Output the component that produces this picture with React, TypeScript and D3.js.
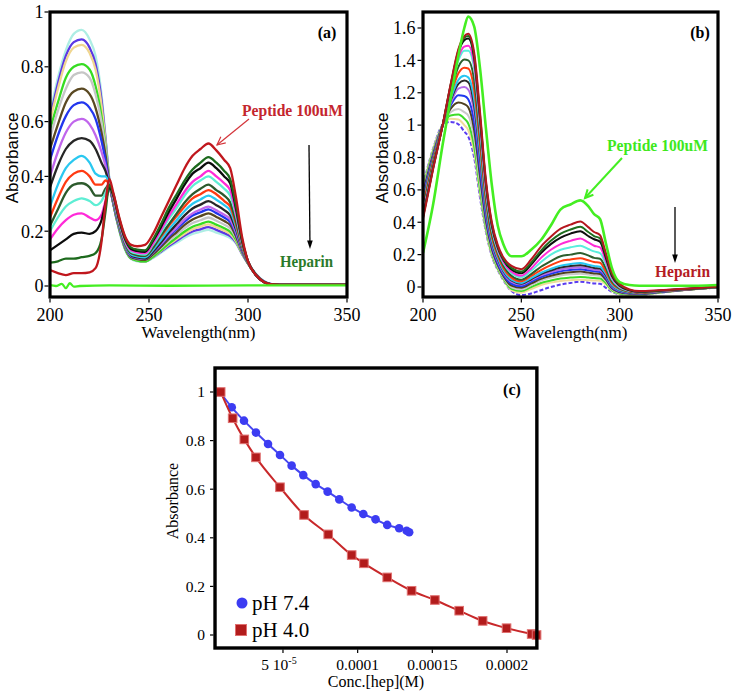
import React from 'react';
import * as d3 from 'd3';

// ---------- Panel (a) data ----------
const WL_A = [200, 204, 208, 212, 216, 220, 223, 226, 228, 230, 232, 235, 238, 241, 244, 248, 252, 256, 260, 264, 268, 272, 276, 280, 284, 288, 291, 294, 297, 300, 304, 308, 312, 320, 350];
const A_CYAN = [0.63, 0.76, 0.86, 0.92, 0.935, 0.90, 0.84, 0.70, 0.55, 0.39, 0.30, 0.20, 0.13, 0.098, 0.09, 0.088, 0.102, 0.121, 0.141, 0.158, 0.176, 0.19, 0.198, 0.205, 0.195, 0.185, 0.175, 0.155, 0.118, 0.085, 0.045, 0.018, 0.007, 0.004, 0.004];
const A_VIOLET = [0.61, 0.74, 0.84, 0.89, 0.90, 0.87, 0.81, 0.68, 0.54, 0.385, 0.30, 0.205, 0.135, 0.10, 0.093, 0.09, 0.105, 0.125, 0.146, 0.165, 0.184, 0.199, 0.207, 0.215, 0.205, 0.193, 0.182, 0.158, 0.116, 0.082, 0.043, 0.017, 0.007, 0.004, 0.004];
const A_YELLOW = [0.60, 0.72, 0.82, 0.87, 0.88, 0.85, 0.79, 0.66, 0.53, 0.38, 0.30, 0.205, 0.135, 0.10, 0.093, 0.09, 0.106, 0.128, 0.151, 0.171, 0.191, 0.207, 0.217, 0.225, 0.215, 0.202, 0.19, 0.162, 0.118, 0.082, 0.042, 0.016, 0.006, 0.004, 0.004];
const A_GREEN = [0.57, 0.67, 0.76, 0.80, 0.81, 0.79, 0.73, 0.62, 0.51, 0.38, 0.30, 0.205, 0.135, 0.10, 0.093, 0.09, 0.107, 0.13, 0.155, 0.177, 0.199, 0.216, 0.226, 0.235, 0.224, 0.211, 0.198, 0.168, 0.12, 0.082, 0.042, 0.016, 0.006, 0.004, 0.004];
const A_GRAY = [0.54, 0.64, 0.72, 0.77, 0.78, 0.76, 0.70, 0.60, 0.50, 0.375, 0.30, 0.21, 0.14, 0.104, 0.097, 0.095, 0.114, 0.138, 0.165, 0.188, 0.211, 0.23, 0.24, 0.25, 0.238, 0.224, 0.21, 0.175, 0.122, 0.083, 0.041, 0.016, 0.006, 0.004, 0.004];
const A_OLIVE = [0.50, 0.59, 0.67, 0.71, 0.72, 0.70, 0.65, 0.56, 0.48, 0.375, 0.30, 0.21, 0.14, 0.105, 0.098, 0.095, 0.115, 0.143, 0.172, 0.197, 0.223, 0.243, 0.255, 0.265, 0.252, 0.237, 0.222, 0.18, 0.125, 0.083, 0.041, 0.016, 0.006, 0.004, 0.004];
const A_BLUE = [0.46, 0.55, 0.62, 0.66, 0.67, 0.65, 0.61, 0.53, 0.46, 0.37, 0.305, 0.215, 0.145, 0.108, 0.102, 0.10, 0.122, 0.15, 0.181, 0.208, 0.235, 0.257, 0.269, 0.28, 0.266, 0.25, 0.233, 0.19, 0.128, 0.084, 0.041, 0.016, 0.006, 0.004, 0.004];
const A_ORCHID = [0.40, 0.49, 0.56, 0.60, 0.61, 0.59, 0.55, 0.49, 0.44, 0.37, 0.305, 0.215, 0.145, 0.11, 0.103, 0.10, 0.123, 0.153, 0.186, 0.214, 0.243, 0.265, 0.279, 0.29, 0.276, 0.26, 0.243, 0.195, 0.13, 0.084, 0.041, 0.016, 0.006, 0.004, 0.004];
const A_BLACK2 = [0.36, 0.44, 0.50, 0.53, 0.54, 0.53, 0.50, 0.45, 0.42, 0.37, 0.31, 0.22, 0.15, 0.112, 0.104, 0.10, 0.125, 0.159, 0.195, 0.226, 0.258, 0.283, 0.297, 0.31, 0.295, 0.277, 0.258, 0.205, 0.135, 0.085, 0.04, 0.015, 0.006, 0.004, 0.004];
const A_SKY = [0.29, 0.37, 0.43, 0.46, 0.475, 0.45, 0.41, 0.40, 0.40, 0.37, 0.31, 0.22, 0.15, 0.115, 0.108, 0.105, 0.132, 0.168, 0.206, 0.24, 0.274, 0.30, 0.316, 0.33, 0.315, 0.295, 0.275, 0.215, 0.14, 0.085, 0.04, 0.015, 0.006, 0.004, 0.004];
const A_ORANGE = [0.25, 0.32, 0.38, 0.41, 0.42, 0.40, 0.37, 0.37, 0.385, 0.37, 0.315, 0.225, 0.155, 0.12, 0.113, 0.11, 0.14, 0.18, 0.22, 0.255, 0.29, 0.32, 0.335, 0.35, 0.335, 0.31, 0.29, 0.225, 0.145, 0.086, 0.04, 0.015, 0.006, 0.004, 0.004];
const A_DKGREEN2 = [0.22, 0.28, 0.34, 0.37, 0.375, 0.36, 0.33, 0.33, 0.355, 0.37, 0.315, 0.225, 0.155, 0.12, 0.113, 0.11, 0.14, 0.185, 0.225, 0.265, 0.305, 0.335, 0.355, 0.37, 0.35, 0.33, 0.305, 0.235, 0.15, 0.087, 0.04, 0.015, 0.006, 0.004, 0.004];
const A_AQUA = [0.20, 0.25, 0.29, 0.31, 0.32, 0.31, 0.295, 0.31, 0.34, 0.37, 0.32, 0.23, 0.16, 0.125, 0.118, 0.115, 0.15, 0.195, 0.245, 0.285, 0.33, 0.365, 0.385, 0.40, 0.38, 0.355, 0.33, 0.255, 0.155, 0.088, 0.04, 0.015, 0.006, 0.004, 0.004];
const A_MAGENTA = [0.17, 0.21, 0.24, 0.26, 0.265, 0.25, 0.24, 0.26, 0.31, 0.37, 0.325, 0.235, 0.165, 0.13, 0.123, 0.12, 0.155, 0.205, 0.255, 0.30, 0.345, 0.38, 0.40, 0.42, 0.40, 0.375, 0.35, 0.265, 0.16, 0.09, 0.04, 0.015, 0.006, 0.004, 0.004];
const A_BLACK = [0.13, 0.15, 0.17, 0.19, 0.195, 0.19, 0.20, 0.24, 0.30, 0.36, 0.33, 0.24, 0.17, 0.135, 0.128, 0.125, 0.165, 0.215, 0.27, 0.32, 0.37, 0.41, 0.43, 0.45, 0.43, 0.40, 0.375, 0.28, 0.165, 0.09, 0.04, 0.015, 0.006, 0.004, 0.004];
const A_DKGREEN = [0.085, 0.09, 0.10, 0.10, 0.105, 0.11, 0.12, 0.17, 0.27, 0.37, 0.335, 0.245, 0.175, 0.14, 0.133, 0.13, 0.17, 0.225, 0.285, 0.335, 0.385, 0.425, 0.45, 0.47, 0.45, 0.42, 0.39, 0.29, 0.17, 0.09, 0.04, 0.015, 0.006, 0.004, 0.004];
const A_PEPTIDE = [0.058, 0.047, 0.04, 0.047, 0.047, 0.05, 0.065, 0.16, 0.30, 0.39, 0.34, 0.25, 0.18, 0.15, 0.145, 0.15, 0.19, 0.25, 0.31, 0.37, 0.43, 0.475, 0.50, 0.52, 0.495, 0.46, 0.43, 0.32, 0.18, 0.09, 0.04, 0.015, 0.006, 0.004, 0.004];
const WL_A_BASE = [200, 203, 206, 208, 210, 212, 215, 230, 260, 300, 350];
const A_BASELINE = [0.003, 0.0, 0.008, -0.008, 0.01, -0.002, 0.0, 0.002, 0.001, 0.002, 0.002];

// ---------- Panel (b) data ----------
const WL_B = [200, 205, 210, 214, 218, 221, 223, 226, 229, 232, 235, 238, 241, 245, 250, 255, 260, 265, 270, 275, 280, 284, 287, 290, 293, 296, 300, 305, 310, 320, 330, 340, 350];
const B_DKRED = [0.42, 0.72, 1.0, 1.25, 1.47, 1.55, 1.565, 1.45, 1.08, 0.66, 0.40, 0.26, 0.18, 0.13, 0.11, 0.17, 0.25, 0.31, 0.36, 0.385, 0.405, 0.37, 0.34, 0.32, 0.21, 0.09, 0.02, -0.015, -0.025, -0.02, -0.013, -0.006, 0.003];
const B_DKGREEN = [0.43, 0.725, 1.0, 1.245, 1.46, 1.54, 1.55, 1.43, 1.06, 0.645, 0.39, 0.25, 0.17, 0.118, 0.095, 0.15, 0.225, 0.285, 0.33, 0.355, 0.372, 0.34, 0.315, 0.30, 0.195, 0.08, 0.012, -0.018, -0.028, -0.022, -0.014, -0.007, 0.002];
const B_BLACK = [0.435, 0.73, 1.0, 1.24, 1.45, 1.525, 1.535, 1.415, 1.04, 0.635, 0.38, 0.245, 0.165, 0.108, 0.085, 0.138, 0.21, 0.265, 0.305, 0.33, 0.345, 0.315, 0.295, 0.28, 0.18, 0.07, 0.008, -0.02, -0.03, -0.023, -0.015, -0.007, 0.002];
const B_MAGENTA = [0.45, 0.735, 1.0, 1.23, 1.42, 1.485, 1.49, 1.38, 1.01, 0.61, 0.37, 0.235, 0.155, 0.095, 0.07, 0.115, 0.18, 0.23, 0.265, 0.285, 0.30, 0.275, 0.255, 0.245, 0.16, 0.06, 0.003, -0.022, -0.032, -0.024, -0.016, -0.008, 0.002];
const B_AQUA = [0.46, 0.74, 1.0, 1.22, 1.40, 1.46, 1.46, 1.35, 0.98, 0.59, 0.355, 0.225, 0.145, 0.085, 0.06, 0.10, 0.155, 0.20, 0.23, 0.245, 0.255, 0.235, 0.22, 0.21, 0.14, 0.05, -0.002, -0.024, -0.033, -0.025, -0.016, -0.008, 0.001];
const B_DKGREEN3 = [0.48, 0.755, 1.0, 1.2, 1.36, 1.405, 1.40, 1.28, 0.93, 0.56, 0.33, 0.21, 0.13, 0.07, 0.045, 0.08, 0.125, 0.16, 0.19, 0.20, 0.21, 0.195, 0.18, 0.175, 0.115, 0.035, -0.008, -0.027, -0.035, -0.026, -0.017, -0.009, 0.0];
const B_ORANGE = [0.50, 0.77, 1.0, 1.18, 1.32, 1.355, 1.35, 1.22, 0.88, 0.53, 0.31, 0.195, 0.115, 0.058, 0.035, 0.068, 0.105, 0.135, 0.16, 0.17, 0.178, 0.165, 0.155, 0.15, 0.095, 0.025, -0.012, -0.03, -0.037, -0.027, -0.018, -0.009, 0.0];
const B_SKY = [0.52, 0.78, 1.0, 1.16, 1.28, 1.305, 1.295, 1.16, 0.83, 0.50, 0.29, 0.18, 0.10, 0.045, 0.025, 0.055, 0.088, 0.112, 0.132, 0.142, 0.148, 0.138, 0.13, 0.125, 0.08, 0.015, -0.018, -0.033, -0.039, -0.028, -0.018, -0.009, 0.0];
const B_BLACK2 = [0.53, 0.79, 1.0, 1.15, 1.255, 1.275, 1.265, 1.12, 0.80, 0.48, 0.28, 0.17, 0.095, 0.04, 0.02, 0.048, 0.08, 0.102, 0.12, 0.13, 0.135, 0.126, 0.118, 0.114, 0.072, 0.01, -0.02, -0.035, -0.04, -0.029, -0.019, -0.01, -0.001];
const B_ORCHID = [0.545, 0.795, 1.0, 1.135, 1.225, 1.235, 1.22, 1.08, 0.77, 0.46, 0.265, 0.16, 0.085, 0.032, 0.015, 0.042, 0.072, 0.092, 0.108, 0.117, 0.122, 0.114, 0.107, 0.103, 0.065, 0.005, -0.024, -0.037, -0.041, -0.03, -0.019, -0.01, -0.001];
const B_BLUE = [0.56, 0.805, 1.0, 1.12, 1.185, 1.18, 1.16, 1.02, 0.72, 0.43, 0.25, 0.145, 0.075, 0.02, 0.005, 0.033, 0.062, 0.082, 0.097, 0.105, 0.11, 0.103, 0.097, 0.093, 0.055, -0.002, -0.028, -0.039, -0.042, -0.031, -0.02, -0.01, -0.001];
const B_OLIVE = [0.58, 0.815, 1.0, 1.10, 1.14, 1.13, 1.11, 0.97, 0.68, 0.405, 0.235, 0.135, 0.065, 0.008, -0.005, 0.022, 0.05, 0.069, 0.083, 0.091, 0.095, 0.089, 0.084, 0.08, 0.045, -0.008, -0.032, -0.041, -0.044, -0.032, -0.021, -0.011, -0.002];
const B_GRAY = [0.595, 0.825, 1.0, 1.08, 1.10, 1.08, 1.06, 0.92, 0.64, 0.385, 0.22, 0.125, 0.058, -0.002, -0.015, 0.012, 0.04, 0.058, 0.071, 0.078, 0.082, 0.077, 0.072, 0.069, 0.036, -0.014, -0.036, -0.044, -0.046, -0.033, -0.021, -0.011, -0.002];
const B_GREEN = [0.61, 0.835, 1.0, 1.06, 1.065, 1.04, 1.01, 0.87, 0.60, 0.365, 0.205, 0.115, 0.05, -0.012, -0.025, 0.0, 0.025, 0.04, 0.052, 0.058, 0.062, 0.058, 0.055, 0.053, 0.025, -0.02, -0.04, -0.047, -0.048, -0.034, -0.022, -0.011, -0.002];
const B_YELLOW = [0.62, 0.845, 1.0, 1.04, 1.035, 1.0, 0.97, 0.835, 0.575, 0.35, 0.195, 0.11, 0.045, -0.02, -0.035, -0.012, 0.012, 0.027, 0.037, 0.042, 0.045, 0.042, 0.04, 0.039, 0.015, -0.025, -0.043, -0.049, -0.05, -0.035, -0.022, -0.012, -0.003];
const B_VIOLET = [0.63, 0.85, 1.0, 1.02, 1.005, 0.96, 0.93, 0.80, 0.55, 0.34, 0.19, 0.105, 0.04, -0.025, -0.05, -0.04, -0.02, 0.0, 0.015, 0.025, 0.033, 0.027, 0.022, 0.02, -0.005, -0.03, -0.045, -0.05, -0.05, -0.036, -0.022, -0.012, -0.003];
const B_PEPTIDE = [0.21, 0.50, 0.88, 1.16, 1.43, 1.60, 1.67, 1.61, 1.35, 0.98, 0.63, 0.38, 0.26, 0.19, 0.19, 0.23, 0.29, 0.38, 0.48, 0.51, 0.535, 0.50, 0.45, 0.42, 0.27, 0.12, 0.03, 0.012, 0.008, 0.008, 0.008, 0.008, 0.012];

// ---------- Panel (c) data ----------
const PH74_X = [7.8e-6, 1.57e-5, 2.39e-5, 3.19e-5, 4.0e-5, 4.8e-5, 5.58e-5, 6.36e-5, 7.19e-5, 7.99e-5, 8.77e-5, 9.6e-5, 1.038e-4, 1.12e-4, 1.198e-4, 1.278e-4, 1.328e-4, 1.345e-4];
const PH74_Y = [1.0, 0.937, 0.882, 0.833, 0.786, 0.741, 0.697, 0.658, 0.621, 0.590, 0.558, 0.525, 0.498, 0.476, 0.453, 0.439, 0.429, 0.423];
const PH40_X = [8.3e-6, 1.63e-5, 2.41e-5, 3.19e-5, 4.8e-5, 6.41e-5, 8.03e-5, 9.6e-5, 1.042e-4, 1.198e-4, 1.361e-4, 1.517e-4, 1.68e-4, 1.837e-4, 1.997e-4, 2.165e-4, 2.198e-4];
const PH40_Y = [1.0, 0.892, 0.805, 0.731, 0.608, 0.494, 0.414, 0.329, 0.295, 0.237, 0.182, 0.144, 0.100, 0.058, 0.028, 0.004, 0.0];

// ---------- ticks ----------
const TICKS_WL = [200, 250, 300, 350];
const TICKS_A_Y = [0, 0.2, 0.4, 0.6, 0.8, 1];
const TICKS_B_Y = [0, 0.2, 0.4, 0.6, 0.8, 1, 1.2, 1.4, 1.6];
const TICKS_C_Y = [0, 0.2, 0.4, 0.6, 0.8, 1];
const TICKS_C_X = [5e-5, 1e-4, 1.5e-4, 2e-4];
const TICKS_C_X_LABELS = ['5 10', '0.0001', '0.00015', '0.0002'];

// ---------- styles ----------
const SERIF = '"Liberation Serif", "Times New Roman", Times, "DejaVu Serif", serif';
const SANS = '"Liberation Sans", Arial, Helvetica, sans-serif';
const serif = (size: number, bold = false) => ({ fontFamily: SERIF, fontSize: size, fontWeight: bold ? 700 : 400 });
const sans = (size: number) => ({ fontFamily: SANS, fontSize: size });

const SERIES_A = [
  { v: A_CYAN, c: '#aeeee4' },
  { v: A_VIOLET, c: '#5b38e4' },
  { v: A_YELLOW, c: '#f0d690' },
  { v: A_GREEN, c: '#36dc22' },
  { v: A_GRAY, c: '#c6c6c6' },
  { v: A_OLIVE, c: '#5a4922' },
  { v: A_BLUE, c: '#2236ee' },
  { v: A_ORCHID, c: '#c066ec' },
  { v: A_BLACK2, c: '#262626' },
  { v: A_SKY, c: '#2ac8f0' },
  { v: A_ORANGE, c: '#ff3a12' },
  { v: A_DKGREEN2, c: '#2c5a2c' },
  { v: A_AQUA, c: '#5eeed4' },
  { v: A_MAGENTA, c: '#ff2ad8' },
  { v: A_BLACK, c: '#0c0c0c' },
  { v: A_DKGREEN, c: '#1d6a1d' },
  { v: A_PEPTIDE, c: '#c0171d' },
];

const SERIES_B = [
  { v: B_VIOLET, c: '#5a3cf0', dash: '4,2' },
  { v: B_YELLOW, c: '#f0dc9a' },
  { v: B_GREEN, c: '#3ddc28' },
  { v: B_GRAY, c: '#c9c9c9' },
  { v: B_OLIVE, c: '#4e4020' },
  { v: B_BLUE, c: '#2038ee' },
  { v: B_ORCHID, c: '#b46ae8' },
  { v: B_BLACK2, c: '#2b2b2b' },
  { v: B_SKY, c: '#28c6f2' },
  { v: B_ORANGE, c: '#ff3c10' },
  { v: B_DKGREEN3, c: '#2d5e2d' },
  { v: B_AQUA, c: '#5aeedd' },
  { v: B_MAGENTA, c: '#ff2bd6' },
  { v: B_BLACK, c: '#0e0e0e' },
  { v: B_DKGREEN, c: '#1e6e1e' },
  { v: B_DKRED, c: '#b5161e' },
];

const fmt = (d: number) => String(+d.toFixed(1));

function Arrow({ x1, y1, x2, y2, color, width, filled }: any) {
  const ang = Math.atan2(y2 - y1, x2 - x1);
  const len = 9;
  const spread = filled ? 0.32 : 0.45;
  const ax = x2 - len * Math.cos(ang - spread), ay = y2 - len * Math.sin(ang - spread);
  const bx = x2 - len * Math.cos(ang + spread), by = y2 - len * Math.sin(ang + spread);
  return (
    <g>
      <line x1={x1} y1={y1} x2={filled ? x2 - 6 * Math.cos(ang) : x2} y2={filled ? y2 - 6 * Math.sin(ang) : y2} stroke={color} strokeWidth={width} />
      {filled ? (
        <polygon points={`${x2},${y2} ${ax},${ay} ${bx},${by}`} fill={color} />
      ) : (
        <polyline points={`${ax},${ay} ${x2},${y2} ${bx},${by}`} fill="none" stroke={color} strokeWidth={width} />
      )}
    </g>
  );
}

function YAxis({ y, ticks, x0, fs, gap }: any) {
  return (
    <g>
      {ticks.map((t: number) => (
        <g key={t}>
          <line x1={x0 - 4} x2={x0} y1={y(t)} y2={y(t)} stroke="#000" strokeWidth={1.2} />
          <text x={x0 - gap} y={y(t)} dy="0.35em" textAnchor="end" style={serif(fs)}>{fmt(t)}</text>
        </g>
      ))}
    </g>
  );
}

function XAxisWL({ x, y0, ly }: any) {
  return (
    <g>
      {TICKS_WL.map((t) => (
        <g key={t}>
          <line x1={x(t)} x2={x(t)} y1={y0} y2={y0 + 4} stroke="#000" strokeWidth={1.2} />
          <text x={x(t)} y={ly} textAnchor="middle" style={serif(18)}>{t}</text>
        </g>
      ))}
    </g>
  );
}

export default function App() {
  // Panel a
  const xA = d3.scaleLinear().domain([200, 350]).range([50, 347]);
  const yA = d3.scaleLinear().domain([0, 1]).range([286, 12]);
  const lineA = d3.line<number>().x((_, i) => xA(WL_A[i])).y((d) => yA(d)).curve(d3.curveMonotoneX);
  const lineABase = d3.line<number>().x((_, i) => xA(WL_A_BASE[i])).y((d) => yA(d)).curve(d3.curveMonotoneX);
  // Panel b
  const xB = d3.scaleLinear().domain([200, 350]).range([423, 718]);
  const yB = d3.scaleLinear().domain([0, 1.6]).range([287, 28]);
  const lineB = d3.line<number>().x((_, i) => xB(WL_B[i])).y((d) => yB(d)).curve(d3.curveMonotoneX);
  // Panel c
  const xC = d3.scaleLinear().domain([0, 2e-4]).range([208.3, 507]);
  const yC = d3.scaleLinear().domain([0, 1]).range([635, 392]);
  const lineC74 = d3.line<number>().x((d) => xC(d)).y((_, i) => yC(PH74_Y[i])).curve(d3.curveMonotoneX);
  const lineC40 = d3.line<number>().x((d) => xC(d)).y((_, i) => yC(PH40_Y[i])).curve(d3.curveMonotoneX);

  const fa = { x0: xA(200), x1: xA(350), y0: yA(1), y1: 297 };
  const fb = { x0: xB(200), x1: xB(350), y0: 12, y1: 297 };
  const fc = { x0: xC(4.5e-6), x1: xC(2.2e-4), y0: 368, y1: 648 };

  return (
    <svg width={734} height={694} style={{ position: 'absolute', left: 0, top: 0, background: '#fff' }}>
      <defs>
        <clipPath id="clipA"><rect x={fa.x0} y={fa.y0} width={fa.x1 - fa.x0} height={fa.y1 - fa.y0} /></clipPath>
        <clipPath id="clipB"><rect x={fb.x0} y={fb.y0} width={fb.x1 - fb.x0} height={fb.y1 - fb.y0} /></clipPath>
      </defs>
      <rect x={0} y={0} width={734} height={694} fill="#fff" />

      {/* ---------- Panel (a) ---------- */}
      <g clipPath="url(#clipA)">
        {SERIES_A.map((s, i) => (
          <path key={i} d={lineA(s.v) || ''} fill="none" stroke={s.c} strokeWidth={2.3} strokeLinejoin="round" />
        ))}
        <path d={lineABase(A_BASELINE) || ''} fill="none" stroke="#44ee22" strokeWidth={2.3} />
      </g>
      <rect x={fa.x0} y={fa.y0} width={fa.x1 - fa.x0} height={fa.y1 - fa.y0} fill="none" stroke="#000" strokeWidth={3.2} />
      <YAxis y={yA} ticks={TICKS_A_Y} x0={fa.x0 - 1.5} fs={18} gap={5} />
      <XAxisWL x={xA} y0={fa.y1 + 1.5} ly={321} />
      <text transform={`translate(18,158) rotate(-90)`} textAnchor="middle" style={sans(17)}>Absorbance</text>
      <text x={(fa.x0 + fa.x1) / 2} y={338} textAnchor="middle" style={serif(17)}>Wavelength(nm)</text>
      <text x={327} y={38} textAnchor="middle" style={serif(16, true)}>(a)</text>
      <text x={242} y={116} style={serif(17, true)} fill="#c4262e" textLength={101} lengthAdjust="spacingAndGlyphs">Peptide 100uM</text>
      <Arrow x1={249} y1={119} x2={217} y2={145} color="#d4343a" width={1.2} />
      <Arrow x1={309} y1={145} x2={310} y2={249} color="#000" width={1.3} filled />
      <text x={280} y={267} style={serif(16, true)} fill="#2a7a2a" textLength={53} lengthAdjust="spacingAndGlyphs">Heparin</text>

      {/* ---------- Panel (b) ---------- */}
      <g clipPath="url(#clipB)">
        {SERIES_B.map((s, i) => (
          <path key={i} d={lineB(s.v) || ''} fill="none" stroke={s.c} strokeWidth={2} strokeDasharray={s.dash} strokeLinejoin="round" />
        ))}
        <path d={lineB(B_PEPTIDE) || ''} fill="none" stroke="#44ee22" strokeWidth={2.6} strokeLinejoin="round" />
      </g>
      <rect x={fb.x0} y={fb.y0} width={fb.x1 - fb.x0} height={fb.y1 - fb.y0} fill="none" stroke="#000" strokeWidth={3.2} />
      <YAxis y={yB} ticks={TICKS_B_Y} x0={fb.x0 - 1.5} fs={18} gap={6} />
      <XAxisWL x={xB} y0={fb.y1 + 1.5} ly={321} />
      <text transform={`translate(388,158) rotate(-90)`} textAnchor="middle" style={sans(17)}>Absorbance</text>
      <text x={(fb.x0 + fb.x1) / 2} y={338} textAnchor="middle" style={serif(17)}>Wavelength(nm)</text>
      <text x={700} y={38} textAnchor="middle" style={serif(16, true)}>(b)</text>
      <text x={607} y={151} style={serif(17, true)} fill="#3ee81e" textLength={101} lengthAdjust="spacingAndGlyphs">Peptide 100uM</text>
      <Arrow x1={622} y1={158} x2={585} y2={198} color="#44ee22" width={2} />
      <Arrow x1={675} y1={207} x2={675} y2={263} color="#000" width={1.3} filled />
      <text x={655} y={277} style={serif(16, true)} fill="#b51c24" textLength={55} lengthAdjust="spacingAndGlyphs">Heparin</text>

      {/* ---------- Panel (c) ---------- */}
      <path d={lineC74(PH74_X) || ''} fill="none" stroke="#4646f0" strokeWidth={2} />
      {PH74_X.map((x, i) => (
        <circle key={i} cx={xC(x)} cy={yC(PH74_Y[i])} r={4.3} fill="#3c3cf2" />
      ))}
      <path d={lineC40(PH40_X) || ''} fill="none" stroke="#c8282a" strokeWidth={2} />
      {PH40_X.map((x, i) => (
        <rect key={i} x={xC(x) - 4.3} y={yC(PH40_Y[i]) - 4.3} width={8.6} height={8.6} fill="#b21c1c" stroke="#e07070" strokeWidth={1} />
      ))}
      <rect x={fc.x0} y={fc.y0} width={fc.x1 - fc.x0} height={fc.y1 - fc.y0} fill="none" stroke="#000" strokeWidth={3.4} />
      {TICKS_C_Y.map((t) => (
        <g key={t}>
          <line x1={fc.x0 - 5} x2={fc.x0 - 1.5} y1={yC(t)} y2={yC(t)} stroke="#000" strokeWidth={1.2} />
          <text x={fc.x0 - 10} y={yC(t)} dy="0.35em" textAnchor="end" style={serif(15.5)}>{fmt(t)}</text>
        </g>
      ))}
      {TICKS_C_X.map((t, i) => (
        <g key={t}>
          <line x1={xC(t)} x2={xC(t)} y1={fc.y1 + 1.5} y2={fc.y1 + 5} stroke="#000" strokeWidth={1.2} />
          <text x={xC(t) - (i === 0 ? 4 : 0)} y={670} textAnchor="middle" style={serif(15.5)}>
            {TICKS_C_X_LABELS[i]}
            {i === 0 ? <tspan dy={-6} style={{ fontSize: 10 }}>-5</tspan> : null}
          </text>
        </g>
      ))}
      <text transform={`translate(178,501) rotate(-90)`} textAnchor="middle" style={serif(16)}>Absorbance</text>
      <text x={(fc.x0 + fc.x1) / 2} y={687} textAnchor="middle" style={serif(16)}>Conc.[hep](M)</text>
      <text x={512} y={395} textAnchor="middle" style={serif(16, true)}>(c)</text>
      <circle cx={242} cy={603} r={5.5} fill="#3c3cf2" />
      <text x={252} y={610} style={serif(21)}>pH 7.4</text>
      <rect x={235.5} y={624.5} width={11} height={11} fill="#b21c1c" stroke="#e07070" strokeWidth={1} />
      <text x={252} y={637} style={serif(21)}>pH 4.0</text>
    </svg>
  );
}
